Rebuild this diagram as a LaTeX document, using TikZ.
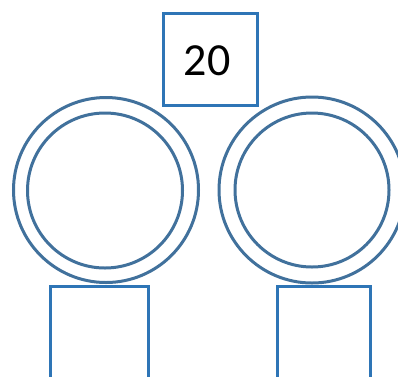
\documentclass[tikz,border=0pt]{standalone}
\usepackage{fontspec}
\setmainfont{Carlito}
\definecolor{boxblue}{HTML}{2E75B6}
\definecolor{ringblue}{HTML}{41719C}
\begin{document}
\begin{tikzpicture}[x=1pt,y=-1pt,
  boxst/.style={draw=boxblue,line width=3pt},
  ringst/.style={draw=ringblue,line width=3pt}]
\useasboundingbox (0,0) rectangle (398,376);
\clip (0,0) rectangle (398,376);
\fill[white] (0,0) rectangle (398,376);
% top box
\draw[boxst] (163,13) rectangle (257,105);
\node[font=\fontsize{46}{50}\selectfont] (num) at (207,61) {20};
% circles
\draw[ringst] (106,190) circle[radius=92.5];
\draw[ringst] (105,190.5) circle[radius=77.5];
\draw[ringst] (312,190) circle[radius=93];
\draw[ringst] (312,190) circle[radius=77];
% bottom boxes
\draw[boxst] (50,286) rectangle (148,390);
\draw[boxst] (277,286) rectangle (370,390);
\end{tikzpicture}
\end{document}
